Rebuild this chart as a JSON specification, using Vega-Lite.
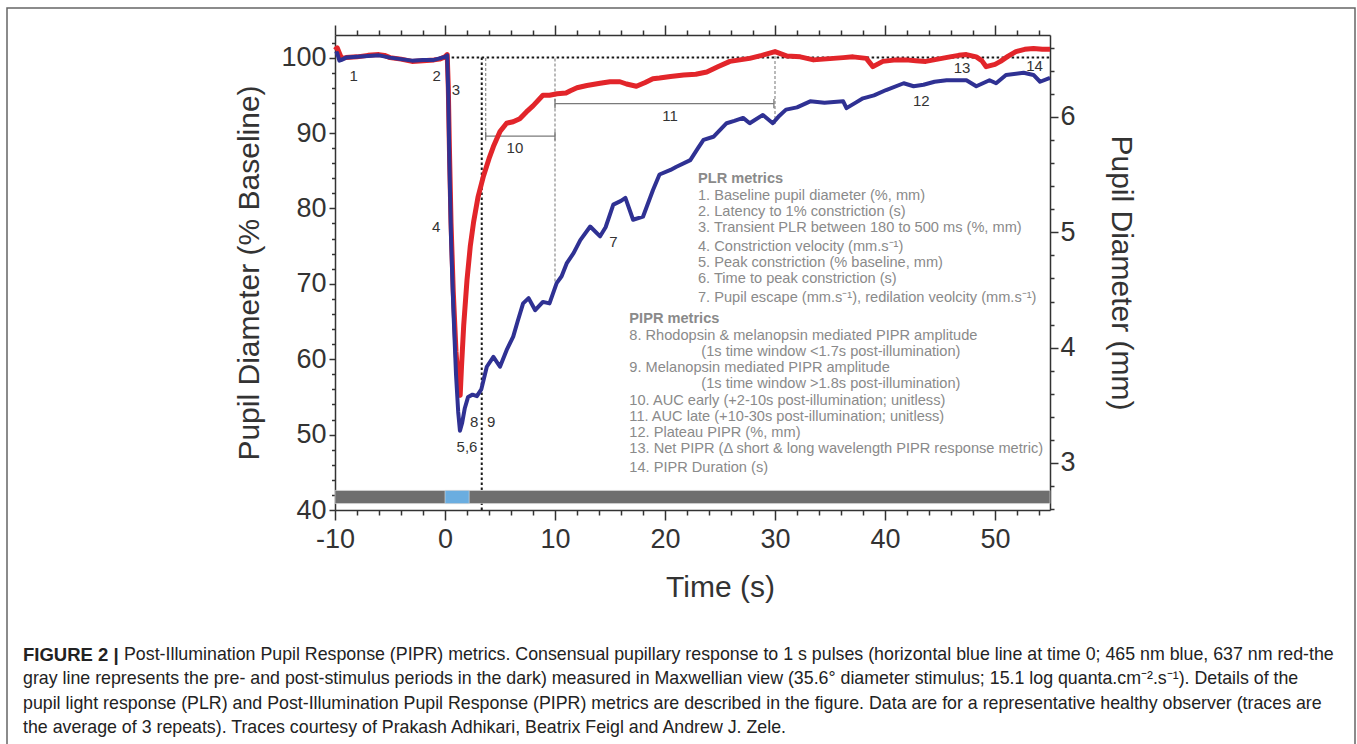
{
  "$schema": "https://vega.github.io/schema/vega-lite/v6.json",
  "width": 1348,
  "height": 740,
  "autosize": "none",
  "padding": {"left": 7, "top": 8, "right": 2, "bottom": 0},
  "background": "white",
  "config": {
    "font": "Liberation Sans",
    "view": {"stroke": "#666666", "strokeWidth": 1.5},
    "axis": {
      "grid": false, "domainColor": "#333333", "domainWidth": 1.5,
      "tickColor": "#333333", "tickWidth": 1.5,
      "labelColor": "#333333", "titleColor": "#333333",
      "labelFont": "Liberation Sans", "titleFont": "Liberation Sans",
      "titleFontWeight": "normal", "labelFontSize": 27, "titleFontSize": 30,
      "labelOverlap": false, "labelFlush": false, "zindex": 1
    }
  },
  "datasets": {
    "red": [
      {"t": -10, "pct": 101.0}, {"t": -9.8, "pct": 101.3}, {"t": -9.6, "pct": 100.6}, {"t": -9.4, "pct": 99.9},
      {"t": -9.0, "pct": 100.0}, {"t": -8.0, "pct": 100.1}, {"t": -7.0, "pct": 100.3}, {"t": -6.0, "pct": 100.4},
      {"t": -5.5, "pct": 100.3}, {"t": -5.0, "pct": 100.0}, {"t": -4.0, "pct": 99.8}, {"t": -3.0, "pct": 99.5},
      {"t": -2.0, "pct": 99.6}, {"t": -1.0, "pct": 99.7}, {"t": -0.5, "pct": 99.8}, {"t": 0.0, "pct": 100.1},
      {"t": 0.2, "pct": 100.4}, {"t": 0.3, "pct": 96}, {"t": 0.4, "pct": 88}, {"t": 0.55, "pct": 78},
      {"t": 0.75, "pct": 69}, {"t": 1.0, "pct": 61}, {"t": 1.2, "pct": 57}, {"t": 1.38, "pct": 55.2},
      {"t": 1.5, "pct": 59}, {"t": 1.7, "pct": 64.5}, {"t": 2.0, "pct": 70.5}, {"t": 2.3, "pct": 75},
      {"t": 2.6, "pct": 78.2}, {"t": 3.0, "pct": 81.5}, {"t": 3.5, "pct": 84.3}, {"t": 4.0, "pct": 86.6},
      {"t": 4.4, "pct": 88.2}, {"t": 5.0, "pct": 90.2}, {"t": 5.6, "pct": 91.3}, {"t": 6.2, "pct": 91.5},
      {"t": 6.8, "pct": 91.9}, {"t": 7.4, "pct": 92.8}, {"t": 8.0, "pct": 93.6}, {"t": 8.9, "pct": 95.0},
      {"t": 9.5, "pct": 95.0}, {"t": 10.2, "pct": 95.2}, {"t": 11.0, "pct": 95.3}, {"t": 11.4, "pct": 95.6},
      {"t": 12.0, "pct": 96.0}, {"t": 12.9, "pct": 96.3}, {"t": 14.1, "pct": 96.6}, {"t": 15.0, "pct": 96.8},
      {"t": 15.9, "pct": 96.8}, {"t": 16.5, "pct": 96.5}, {"t": 17.4, "pct": 96.2}, {"t": 18.2, "pct": 96.7},
      {"t": 18.9, "pct": 97.2}, {"t": 19.5, "pct": 97.3}, {"t": 20.5, "pct": 97.5}, {"t": 21.7, "pct": 97.7},
      {"t": 22.8, "pct": 97.8}, {"t": 23.8, "pct": 98.1}, {"t": 24.8, "pct": 98.8}, {"t": 25.9, "pct": 99.5},
      {"t": 26.8, "pct": 99.7}, {"t": 27.7, "pct": 99.9}, {"t": 28.8, "pct": 100.3}, {"t": 30.0, "pct": 100.8},
      {"t": 31.1, "pct": 100.2}, {"t": 32.3, "pct": 100.1}, {"t": 33.5, "pct": 99.7}, {"t": 34.4, "pct": 99.8},
      {"t": 35.3, "pct": 99.9}, {"t": 36.2, "pct": 100.0}, {"t": 37.1, "pct": 100.1}, {"t": 38.3, "pct": 99.9},
      {"t": 38.9, "pct": 98.8}, {"t": 39.8, "pct": 99.5}, {"t": 41.0, "pct": 99.7}, {"t": 41.9, "pct": 99.7},
      {"t": 42.8, "pct": 99.6}, {"t": 43.7, "pct": 99.5}, {"t": 44.8, "pct": 99.8}, {"t": 45.9, "pct": 100.1},
      {"t": 46.7, "pct": 100.3}, {"t": 47.4, "pct": 100.4}, {"t": 48.3, "pct": 100.1}, {"t": 48.8, "pct": 99.6},
      {"t": 49.2, "pct": 98.8}, {"t": 50.0, "pct": 99.1}, {"t": 50.5, "pct": 99.5}, {"t": 51.2, "pct": 100.2},
      {"t": 51.9, "pct": 100.8}, {"t": 52.7, "pct": 101.1}, {"t": 53.5, "pct": 101.2}, {"t": 54.3, "pct": 101.1},
      {"t": 55.0, "pct": 101.1}
    ],
    "blue": [
      {"t": -10, "pct": 100.5}, {"t": -9.8, "pct": 100.6}, {"t": -9.6, "pct": 99.6}, {"t": -9.4, "pct": 99.7},
      {"t": -9.0, "pct": 100.0}, {"t": -8.0, "pct": 100.1}, {"t": -7.0, "pct": 100.2}, {"t": -6.0, "pct": 100.3},
      {"t": -5.0, "pct": 100.0}, {"t": -4.0, "pct": 99.8}, {"t": -3.0, "pct": 99.6}, {"t": -2.0, "pct": 99.7},
      {"t": -1.0, "pct": 99.7}, {"t": -0.5, "pct": 99.9}, {"t": 0.0, "pct": 100.1}, {"t": 0.2, "pct": 100.3},
      {"t": 0.3, "pct": 95}, {"t": 0.4, "pct": 86}, {"t": 0.55, "pct": 76}, {"t": 0.75, "pct": 67},
      {"t": 1.0, "pct": 58}, {"t": 1.2, "pct": 53}, {"t": 1.36, "pct": 50.5}, {"t": 1.55, "pct": 51.5},
      {"t": 1.8, "pct": 53.5}, {"t": 2.1, "pct": 55.0}, {"t": 2.5, "pct": 55.3}, {"t": 2.9, "pct": 55.1},
      {"t": 3.3, "pct": 56.0}, {"t": 3.8, "pct": 59.0}, {"t": 4.4, "pct": 60.3}, {"t": 5.0, "pct": 59.0},
      {"t": 5.6, "pct": 61.2}, {"t": 6.2, "pct": 63.0}, {"t": 6.6, "pct": 65.0}, {"t": 7.1, "pct": 67.4},
      {"t": 7.6, "pct": 68.1}, {"t": 8.2, "pct": 66.5}, {"t": 8.9, "pct": 67.6}, {"t": 9.5, "pct": 67.4},
      {"t": 10.15, "pct": 70.1}, {"t": 10.6, "pct": 71.0}, {"t": 11.06, "pct": 72.7}, {"t": 11.7, "pct": 74.1},
      {"t": 12.3, "pct": 75.8}, {"t": 13.2, "pct": 77.6}, {"t": 14.1, "pct": 76.3}, {"t": 14.6, "pct": 77.5},
      {"t": 15.3, "pct": 80.5}, {"t": 16.0, "pct": 81.0}, {"t": 16.4, "pct": 81.4}, {"t": 17.1, "pct": 78.5},
      {"t": 18.0, "pct": 78.9}, {"t": 18.9, "pct": 82.4}, {"t": 19.5, "pct": 84.5}, {"t": 20.5, "pct": 85.1},
      {"t": 21.0, "pct": 85.5}, {"t": 22.3, "pct": 86.4}, {"t": 23.0, "pct": 88.0}, {"t": 23.5, "pct": 89.1},
      {"t": 24.4, "pct": 89.5}, {"t": 25.6, "pct": 91.3}, {"t": 26.3, "pct": 91.6}, {"t": 27.1, "pct": 92.0},
      {"t": 27.7, "pct": 91.3}, {"t": 28.9, "pct": 92.4}, {"t": 29.8, "pct": 91.3}, {"t": 30.4, "pct": 92.3},
      {"t": 31.0, "pct": 93.1}, {"t": 32.0, "pct": 93.4}, {"t": 33.2, "pct": 94.2}, {"t": 34.5, "pct": 94.0},
      {"t": 36.2, "pct": 94.2}, {"t": 36.5, "pct": 93.3}, {"t": 37.3, "pct": 94.0}, {"t": 38.0, "pct": 94.6},
      {"t": 39.0, "pct": 95.0}, {"t": 40.1, "pct": 95.7}, {"t": 41.7, "pct": 96.6}, {"t": 42.6, "pct": 96.2},
      {"t": 43.5, "pct": 96.4}, {"t": 44.5, "pct": 96.8}, {"t": 45.6, "pct": 97.0}, {"t": 47.4, "pct": 97.0},
      {"t": 48.3, "pct": 96.2}, {"t": 49.5, "pct": 97.0}, {"t": 50.1, "pct": 96.6}, {"t": 51.0, "pct": 97.7},
      {"t": 52.6, "pct": 98.0}, {"t": 53.5, "pct": 97.7}, {"t": 54.1, "pct": 96.8}, {"t": 55.0, "pct": 97.3}
    ],
    "guides": [
      {"k": "dot", "t": 3.34, "t2": 3.34, "pct": 40, "pct2": 100},
      {"k": "dot", "t": 0.15, "t2": 55, "pct": 100, "pct2": 100},
      {"k": "dash", "t": 3.7, "t2": 3.7, "pct": 89.6, "pct2": 100},
      {"k": "dash", "t": 10, "t2": 10, "pct": 70.3, "pct2": 100},
      {"k": "dash", "t": 30, "t2": 30, "pct": 91.2, "pct2": 100.6},
      {"k": "bracket", "t": 3.7, "t2": 10, "pct": 89.6, "pct2": 89.6},
      {"k": "bracket", "t": 3.7, "t2": 3.7, "pct": 89.0, "pct2": 90.2},
      {"k": "bracket", "t": 10, "t2": 10, "pct": 89.0, "pct2": 90.2},
      {"k": "bracket", "t": 10, "t2": 29.9, "pct": 93.9, "pct2": 93.9},
      {"k": "bracket", "t": 10, "t2": 10, "pct": 93.3, "pct2": 94.5},
      {"k": "bracket", "t": 29.9, "t2": 29.9, "pct": 93.3, "pct2": 94.5}
    ],
    "periods": [
      {"period": "dark", "t": -10, "t2": 55, "pct": 40.85, "pct2": 42.6},
      {"period": "light", "t": 0, "t2": 2.2, "pct": 40.85, "pct2": 42.6}
    ],
    "numbers": [
      {"label": "1", "t": -8.3, "pct": 97.5},
      {"label": "2", "t": -0.75, "pct": 97.5},
      {"label": "3", "t": 1.0, "pct": 95.7},
      {"label": "4", "t": -0.8, "pct": 77.6},
      {"label": "5,6", "t": 2.0, "pct": 48.4},
      {"label": "8", "t": 2.66, "pct": 51.7},
      {"label": "9", "t": 4.2, "pct": 51.7},
      {"label": "7", "t": 15.3, "pct": 75.6},
      {"label": "10", "t": 6.36, "pct": 88.0},
      {"label": "11", "t": 20.45, "pct": 92.2},
      {"label": "12", "t": 43.3, "pct": 94.2},
      {"label": "13", "t": 47.0, "pct": 98.6},
      {"label": "14", "t": 53.6, "pct": 98.9}
    ],
    "metrics": [
      {"head": true, "t": 23.0, "pct": 83.91, "text": "PLR metrics"},
      {"head": false, "t": 23.0, "pct": 81.69, "text": "1. Baseline pupil diameter (%, mm)"},
      {"head": false, "t": 23.0, "pct": 79.57, "text": "2. Latency to 1% constriction (s)"},
      {"head": false, "t": 23.0, "pct": 77.41, "text": "3. Transient PLR between 180 to 500 ms (%, mm)"},
      {"head": false, "t": 23.0, "pct": 74.85, "text": "4. Constriction velocity (mm.s⁻¹)"},
      {"head": false, "t": 23.0, "pct": 72.72, "text": "5. Peak constriction (% baseline, mm)"},
      {"head": false, "t": 23.0, "pct": 70.64, "text": "6. Time to peak constriction (s)"},
      {"head": false, "t": 23.0, "pct": 68.16, "text": "7. Pupil escape (mm.s⁻¹), redilation veolcity (mm.s⁻¹)"},
      {"head": true, "t": 16.76, "pct": 65.30, "text": "PIPR metrics"},
      {"head": false, "t": 16.76, "pct": 63.12, "text": "8. Rhodopsin & melanopsin mediated PIPR amplitude"},
      {"head": false, "t": 23.3, "pct": 61.00, "text": "(1s time window <1.7s post-illumination)"},
      {"head": false, "t": 16.76, "pct": 58.84, "text": "9. Melanopsin mediated PIPR amplitude"},
      {"head": false, "t": 23.3, "pct": 56.71, "text": "(1s time window >1.8s post-illumination)"},
      {"head": false, "t": 16.76, "pct": 54.50, "text": "10. AUC early (+2-10s post-illumination; unitless)"},
      {"head": false, "t": 16.76, "pct": 52.37, "text": "11. AUC late (+10-30s post-illumination; unitless)"},
      {"head": false, "t": 16.76, "pct": 50.17, "text": "12. Plateau PIPR (%, mm)"},
      {"head": false, "t": 16.76, "pct": 48.05, "text": "13. Net PIPR (Δ short & long wavelength PIPR response metric)"},
      {"head": false, "t": 16.76, "pct": 45.57, "text": "14. PIPR Duration (s)"}
    ],
    "caption": [
      {"line": 1, "part": "bold", "text": "FIGURE 2 |"},
      {"line": 1, "part": "first", "text": "Post-Illumination Pupil Response (PIPR) metrics. Consensual pupillary response to 1 s pulses (horizontal blue line at time 0; 465 nm blue, 637 nm red-the"},
      {"line": 2, "part": "rest", "text": "gray line represents the pre- and post-stimulus periods in the dark) measured in Maxwellian view (35.6° diameter stimulus; 15.1 log quanta.cm⁻².s⁻¹). Details of the"},
      {"line": 3, "part": "rest", "text": "pupil light response (PLR) and Post-Illumination Pupil Response (PIPR) metrics are described in the figure. Data are for a representative healthy observer (traces are"},
      {"line": 4, "part": "rest", "text": "the average of 3 repeats). Traces courtesy of Prakash Adhikari, Beatrix Feigl and Andrew J. Zele."}
    ]
  },
  "resolve": {"scale": {"x": "independent", "y": "independent"}},
  "layer": [
    {
      "encoding": {
        "x": {
          "field": "t", "type": "quantitative",
          "scale": {"domain": [-10, 55], "range": [328, 1043], "nice": false, "zero": false},
          "axis": {
            "orient": "bottom", "offset": -238, "title": "Time (s)", "titlePadding": 20, "titleX": 713,
            "values": [-10,-8,-6,-4,-2,0,2,4,6,8,10,12,14,16,18,20,22,24,26,28,30,32,34,36,38,40,42,44,46,48,50,52,54],
            "labelExpr": "datum.value % 10 === 0 ? '' + datum.value : ''",
            "tickSize": {"condition": {"test": "datum.value % 10 === 0", "value": 10}, "value": 5},
            "labelPadding": 6
          }
        },
        "y": {
          "field": "pct", "type": "quantitative",
          "scale": {"domain": [40, 103], "range": [502, 27], "nice": false, "zero": false},
          "axis": {
            "orient": "left", "offset": -328, "title": "Pupil Diameter (% Baseline)", "titlePadding": 16,
            "values": [40,42,44,46,48,50,52,54,56,58,60,62,64,66,68,70,72,74,76,78,80,82,84,86,88,90,92,94,96,98,100,102],
            "labelExpr": "datum.value % 10 === 0 ? '' + datum.value : ''",
            "tickSize": {"condition": {"test": "datum.value % 10 === 0", "value": 6}, "value": 3.5},
            "labelPadding": 3
          }
        }
      },
      "layer": [
        {
          "data": {"name": "guides"},
          "transform": [{"filter": "datum.k === 'dot'"}],
          "mark": {"type": "rule", "color": "#1a1a1a", "strokeWidth": 2, "strokeDash": [2.5, 2.5]},
          "encoding": {"x2": {"field": "t2"}, "y2": {"field": "pct2"}}
        },
        {
          "data": {"name": "guides"},
          "transform": [{"filter": "datum.k === 'dash'"}],
          "mark": {"type": "rule", "color": "#8c8c8c", "strokeWidth": 1.2, "strokeDash": [3, 2]},
          "encoding": {"x2": {"field": "t2"}, "y2": {"field": "pct2"}}
        },
        {
          "data": {"name": "guides"},
          "transform": [{"filter": "datum.k === 'bracket'"}],
          "mark": {"type": "rule", "color": "#7a7a7a", "strokeWidth": 1.3},
          "encoding": {"x2": {"field": "t2"}, "y2": {"field": "pct2"}}
        },
        {
          "data": {"name": "periods"},
          "mark": {"type": "rect", "stroke": "#dddddd", "strokeWidth": 0.6},
          "encoding": {
            "x2": {"field": "t2"}, "y2": {"field": "pct2"},
            "color": {"field": "period", "type": "nominal", "scale": {"domain": ["dark", "light"], "range": ["#6e6e6e", "#6aade0"]}, "legend": null}
          }
        },
        {
          "data": {"name": "red"},
          "mark": {"type": "line", "color": "#e2252a", "strokeWidth": 5, "strokeJoin": "round"}
        },
        {
          "data": {"name": "blue"},
          "mark": {"type": "line", "color": "#2f3193", "strokeWidth": 4, "strokeJoin": "round"}
        },
        {
          "data": {"name": "numbers"},
          "mark": {"type": "text", "fontSize": 15, "color": "#333333", "align": "center", "baseline": "middle"},
          "encoding": {"text": {"field": "label"}}
        },
        {
          "data": {"name": "metrics"},
          "transform": [{"filter": "datum.head"}],
          "mark": {"type": "text", "fontSize": 14.6, "fontWeight": "bold", "color": "#8a8a8a", "align": "left", "baseline": "middle"},
          "encoding": {"text": {"field": "text"}}
        },
        {
          "data": {"name": "metrics"},
          "transform": [{"filter": "!datum.head"}],
          "mark": {"type": "text", "fontSize": 14.6, "color": "#8a8a8a", "align": "left", "baseline": "middle"},
          "encoding": {"text": {"field": "text"}}
        }
      ]
    },
    {
      "data": {"values": [{}]},
      "mark": {"type": "point", "opacity": 0},
      "encoding": {
        "x": {
          "datum": -10, "type": "quantitative",
          "scale": {"domain": [-10, 55], "range": [328, 1043], "nice": false, "zero": false},
          "axis": {
            "orient": "top", "offset": -27, "title": null, "labels": false,
            "values": [-10,-8,-6,-4,-2,0,2,4,6,8,10,12,14,16,18,20,22,24,26,28,30,32,34,36,38,40,42,44,46,48,50,52,54],
            "tickSize": {"condition": {"test": "datum.value % 10 === 0", "value": 10}, "value": 5}
          }
        },
        "y": {
          "datum": 6, "type": "quantitative",
          "scale": {"domain": [2.592, 6.711], "range": [502, 27], "nice": false, "zero": false},
          "axis": {
            "orient": "right", "offset": -305, "title": "Pupil Diameter (mm)", "titlePadding": 30,
            "values": [2.6,2.8,3,3.2,3.4,3.6,3.8,4,4.2,4.4,4.6,4.8,5,5.2,5.4,5.6,5.8,6,6.2,6.4,6.6],
            "labelExpr": "abs(datum.value - round(datum.value)) < 0.01 ? '' + round(datum.value) : ''",
            "tickSize": {"condition": {"test": "abs(datum.value - round(datum.value)) < 0.01", "value": 8}, "value": 4},
            "labelPadding": 2
          }
        }
      }
    },
    {
      "data": {"name": "caption"},
      "encoding": {
        "x": {"datum": 0, "type": "quantitative", "scale": {"domain": [0, 1], "range": [16, 1340]}, "axis": null},
        "y": {"field": "line", "type": "quantitative", "scale": {"domain": [1, 4], "range": [647, 720], "nice": false, "zero": false}, "axis": null},
        "text": {"field": "text"}
      },
      "layer": [
        {
          "transform": [{"filter": "datum.part === 'bold'"}],
          "mark": {"type": "text", "fontSize": 18.5, "fontWeight": "bold", "color": "#222222", "align": "left", "baseline": "middle"}
        },
        {
          "transform": [{"filter": "datum.part === 'first'"}],
          "mark": {"type": "text", "fontSize": 17.8, "color": "#222222", "align": "left", "baseline": "middle", "dx": 101}
        },
        {
          "transform": [{"filter": "datum.part === 'rest'"}],
          "mark": {"type": "text", "fontSize": 17.8, "color": "#222222", "align": "left", "baseline": "middle"}
        }
      ]
    }
  ]
}
